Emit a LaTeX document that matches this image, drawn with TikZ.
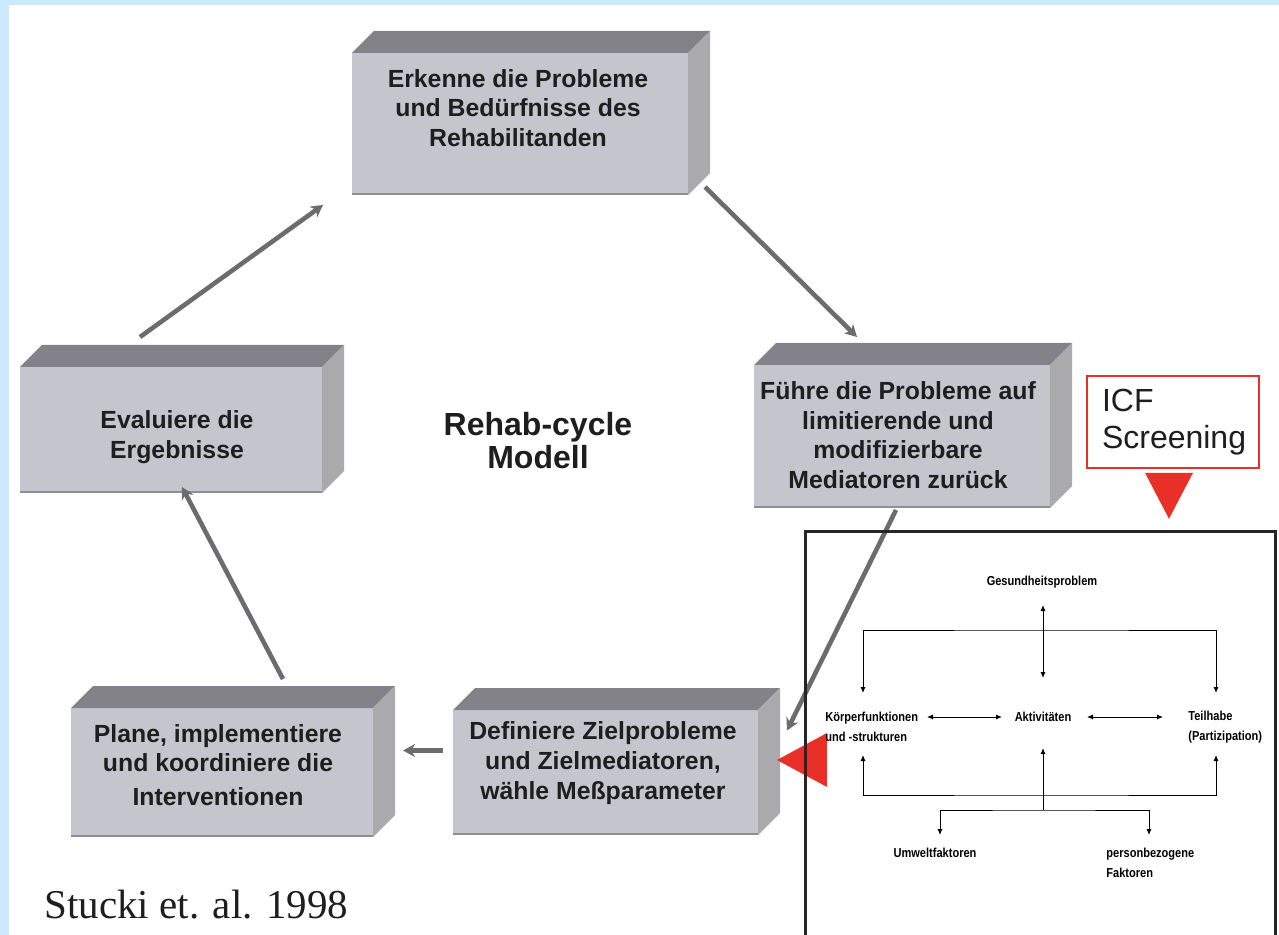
\documentclass[tikz,border=0pt]{standalone}
\usepackage{fontspec}
\setmainfont{Liberation Serif}
\newfontfamily\boxfont{Liberation Sans}
\newfontfamily\icffont[FakeStretch=0.85]{Liberation Sans}
\usetikzlibrary{calc}
\usetikzlibrary{arrows.meta}
\definecolor{bgblue}{RGB}{204,234,255}
\definecolor{facefront}{RGB}{197,197,206}
\definecolor{facetop}{RGB}{130,130,136}
\definecolor{faceside}{RGB}{170,170,172}
\definecolor{faceedge}{RGB}{142,142,148}
\definecolor{arrowgrey}{RGB}{108,108,112}
\definecolor{txtgrey}{RGB}{30,30,30}
\definecolor{icfred}{RGB}{232,48,40}

\begin{document}
\begin{tikzpicture}[x=0.5pt,y=-0.5pt,
  face/.style={fill=facefront, inner sep=0, outer sep=0},
  boxtxt/.style={font=\boxfont\bfseries\fontsize{12.4}{14.8}\selectfont, align=center, text=txtgrey},
  cyc/.style={draw=arrowgrey, line width=2.3pt, -{Stealth[length=6pt,width=6.5pt]}},
  icf/.style={line width=0.5pt, >={Latex[length=3pt,width=2.6pt]}},
  icftxt/.style={font=\icffont\bfseries\fontsize{6.5}{10}\selectfont, inner sep=0, align=left}]
\fill[white] (0,0) rectangle (1279,935);
\fill[bgblue] (0,0) rectangle (9,935);
\fill[bgblue] (0,0) rectangle (1279,5);
\useasboundingbox (0,0) rectangle (1279,935);

\node[face, minimum width=168pt, minimum height=71pt] (erkenne) at (520,124) {};
\node[face, minimum width=148pt, minimum height=71.5pt] (fuehre) at (902,436.5) {};
\node[face, minimum width=152.5pt, minimum height=62.5pt] (definiere) at (605.5,772.5) {};
\node[face, minimum width=151pt, minimum height=64.5pt] (plane) at (222,772.5) {};
\node[face, minimum width=151pt, minimum height=63pt] (evaluiere) at (171,430) {};
\foreach \b in {erkenne,fuehre,definiere,plane,evaluiere} {
 \fill[facetop] (\b.north west) --++(22,-22) -- ($(\b.north east)+(22,-22)$) -- (\b.north east) -- cycle;
 \fill[faceside] (\b.north east) --++(22,-22) -- ($(\b.south east)+(22,-22)$) -- (\b.south east) -- cycle;
 \draw[faceedge, line width=1pt] ($(\b.south west)+(0,-1)$) -- ($(\b.south east)+(0,-1)$);
}
\node[boxtxt] (erkennetxt) at (518,108) {Erkenne die Probleme\\und Bedürfnisse des\\Rehabilitanden};
\node[boxtxt] (fuehretxt) at (898,435) {Führe die Probleme auf\\limitierende und\\modifizierbare\\Mediatoren zurück};
\node[boxtxt] (definieretxt) at (603,763) {Definiere Zielprobleme\\und Zielmediatoren,\\wähle Meßparameter};
\node[boxtxt] (planetxt) at (218,765) {Plane, implementiere\\und koordiniere die\\[2pt]Interventionen};
\node[boxtxt] (evaluieretxt) at (177,437) {Evaluiere die\\Ergebnisse};
\node[font=\boxfont\bfseries\fontsize{16}{16.5}\selectfont, align=center, text=txtgrey] (rehab) at (538,441) {Rehab-cycle\\Modell};

\draw[cyc] ($(evaluiere.north)+(-31,-30)$) -- ($(erkenne.south west)+(-29,10)$);
\draw[cyc] ($(erkenne.south east)+(17,-8)$) -- ($(fuehre.north west)+(103,-28)$);
\draw[cyc] ($(fuehre.south)+(-6,2)$) -- ($(definiere.east)+(29,-42)$);
\draw[cyc] ($(plane.north)+(61,-29)$) -- ($(evaluiere.south)+(11,-6)$);
\draw[cyc] ($(definiere.west)+(-10,-22)$) -- ($(plane.east)+(30,-22)$);

\node[draw=icfred, line width=0.8pt, minimum width=86pt, minimum height=46pt, text width=71pt, align=left, inner sep=0,
  font=\boxfont\fontsize{16}{18.5}\selectfont, text=txtgrey] (screening) at (1173,422) {ICF\\Screening};
\fill[icfred] ($(screening.south)+(-28,4)$) --++(48,0) -- ($(screening.south)+(-4,50)$) -- cycle;
\fill[icfred] ($(definiere.east)+(19,-12.5)$) -- ($(definiere.east)+(69,-39.5)$) -- ($(definiere.east)+(69,14.5)$) -- cycle;

\draw[black!85, line width=1.5pt] (805,531) rectangle (1275,960);
\node[icftxt] (gesund) at (1042,582) {Gesundheitsproblem};
\node[icftxt] (aktiv) at (1043,717) {Aktivitäten};
\node[icftxt, anchor=west] (koerper) at (825,727) {Körperfunktionen\\und -strukturen};
\node[icftxt, anchor=west] (teilhabe) at (1188,727) {Teilhabe\\(Partizipation)};
\node[icftxt] (umwelt) at (935,853) {Umweltfaktoren};
\node[icftxt, anchor=west] (person) at (1106,863) {personbezogene\\Faktoren};
\draw[icf,<->] ($(gesund)+(1,23)$) -- ($(aktiv)+(0,-39)$);
\draw[icf,<->] ($(koerper.west)+(38,-34)$) |- ($(gesund)+(1,48)$) -| ($(teilhabe.west)+(28,-34)$);
\draw[icf,<->] ($(koerper.west)+(38,28)$) |- ($(aktiv)+(0,78)$) -| ($(teilhabe.west)+(28,28)$);
\draw[icf,->] ($(aktiv)+(0,93)$) -- ($(aktiv)+(0,31)$);
\draw[icf,<->] ($(umwelt)+(5,-18)$) |- ($(aktiv)+(0,93)$) -| ($(person.west)+(43,-28)$);
\draw[icf,<->] ($(koerper.west)+(102,-10)$) -- ($(aktiv)+(-41,0)$);
\draw[icf,<->] ($(aktiv)+(44,0)$) -- ($(teilhabe.west)+(-25,-10)$);

\node[anchor=base west, inner sep=0, font=\fontsize{20.5}{24}\selectfont, text=txtgrey] (stucki) at (44,918) {Stucki et. al. 1998};
\end{tikzpicture}
\end{document}
